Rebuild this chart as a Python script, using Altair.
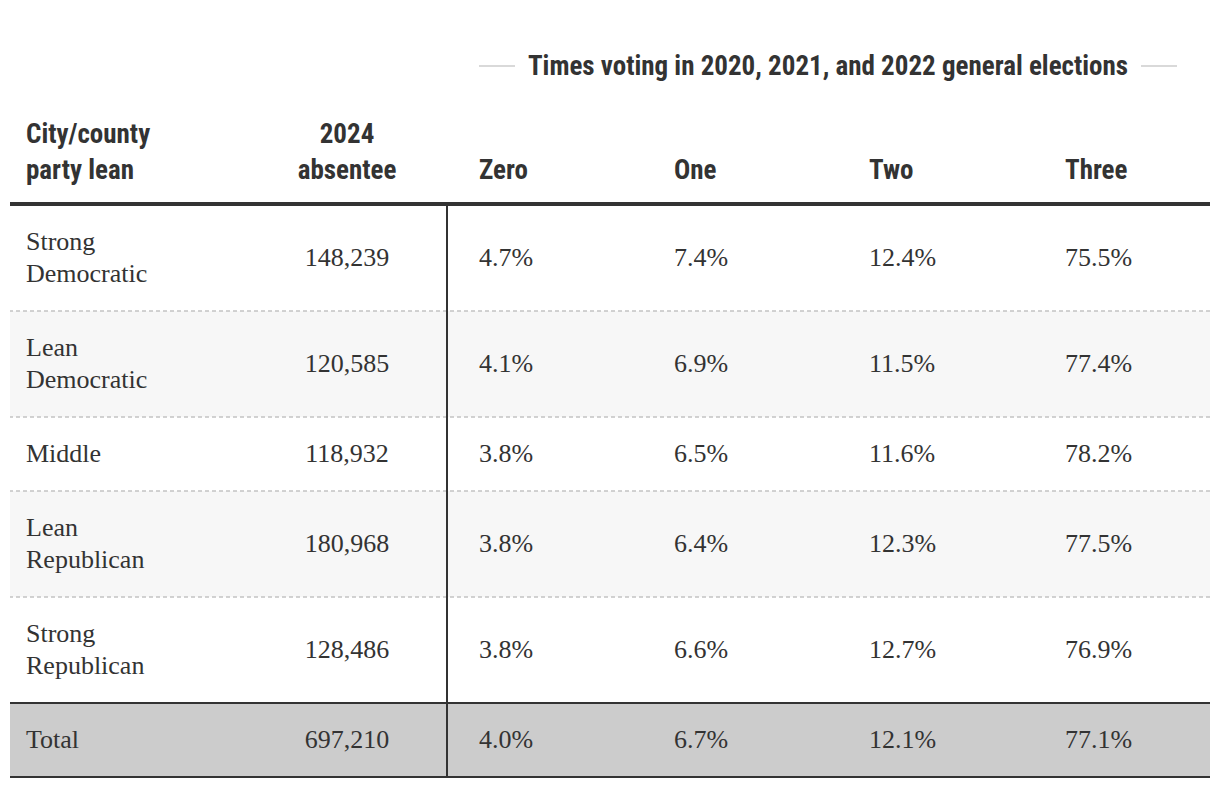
import altair as alt
import pandas as pd

# ---------------- data ----------------
leans = [["Strong", "Democratic"], ["Lean", "Democratic"], ["Middle"],
         ["Lean", "Republican"], ["Strong", "Republican"], ["Total"]]
absentee = [148239, 120585, 118932, 180968, 128486, 697210]
zero = [4.7, 4.1, 3.8, 3.8, 3.8, 4.0]
one = [7.4, 6.9, 6.5, 6.4, 6.6, 6.7]
two = [12.4, 11.5, 11.6, 12.3, 12.7, 12.1]
three = [75.5, 77.4, 78.2, 77.5, 76.9, 77.1]
pct_cols = ["Zero", "One", "Two", "Three"]
header_lean = ["City/county", "party lean"]
header_abs = ["2024", "absentee"]
group_title = "Times voting in 2020, 2021, and 2022 general elections"

# ---------------- layout / style ----------------
W, H = 1200, 772
TABLE_TOP = 197
LINE_H = 32
ROW_PAD = 42
COL_X = {"lean": 16, "absentee": 337, "Zero": 469, "One": 664, "Two": 859, "Three": 1055}
DIVIDER_X = 437
HEADER_LAST_Y = 163
HEADER_LH = 36
TITLE_X = 818
TITLE_Y = 59
TITLE_HALF = 299
DECO_GAP = 14
DECO_LEN = 36
TEXT = "#333333"
SERIF = "Liberation Serif"
SANS = "Liberation Sans Narrow, Roboto Condensed, Roboto, sans-serif"
BODY_SIZE = 26
HEAD_SIZE = 27

# ---------------- tables ----------------
tops, bots = [], []
y = TABLE_TOP
for lines in leans:
    h = ROW_PAD + LINE_H * len(lines)
    tops.append(y)
    bots.append(y + h)
    y += h
fills = ["#ffffff", "#f7f7f7", "#ffffff", "#f7f7f7", "#ffffff", "#cccccc"]
rows = pd.DataFrame({
    "label": leans, "absentee": absentee,
    "top": tops, "bot": bots,
    "mid": [(a + b) / 2 for a, b in zip(tops, bots)],
    "fill": fills,
    "Zero": zero, "One": one, "Two": two, "Three": three,
})
rows["n"] = rows["label"].apply(len)
# multi-line text: first line sits at y, so shift up to centre the block
rows["label_y"] = rows["mid"] - (rows["n"] - 1) * LINE_H / 2
rows["x_lean"] = COL_X["lean"]
rows["x_abs"] = COL_X["absentee"]

pct = rows.melt(id_vars=["mid"], value_vars=pct_cols, var_name="col", value_name="v")
pct["x"] = pct["col"].map(COL_X)

headers = pd.DataFrame({
    "text": [header_lean, header_abs] + [[c] for c in pct_cols],
    "x": [COL_X["lean"], COL_X["absentee"]] + [COL_X[c] for c in pct_cols],
    "align": ["left", "center", "left", "left", "left", "left"],
})
headers["n"] = headers["text"].apply(len)
headers["y"] = HEADER_LAST_Y - (headers["n"] - 1) * HEADER_LH

dashed = pd.DataFrame({"y": tops[1:5]})
solid = pd.DataFrame({"y": [tops[5], bots[5]]})
deco = pd.DataFrame({
    "x": [TITLE_X - TITLE_HALF - DECO_GAP - DECO_LEN, TITLE_X + TITLE_HALF + DECO_GAP],
    "x2": [TITLE_X - TITLE_HALF - DECO_GAP, TITLE_X + TITLE_HALF + DECO_GAP + DECO_LEN],
    "y": [TITLE_Y - 1, TITLE_Y - 1],
})

xs = alt.Scale(domain=[0, W], nice=False, zero=False)
ys = alt.Scale(domain=[0, H], nice=False, zero=False, reverse=True)

def X(f):
    return alt.X(f, type="quantitative", scale=xs, axis=None)

def Y(f):
    return alt.Y(f, type="quantitative", scale=ys, axis=None)

bg = alt.Chart(rows).mark_rect().encode(
    y=Y("top"), y2="bot", color=alt.Color("fill:N", scale=None))

dash_rules = alt.Chart(dashed).mark_rule(
    color="#c4c4c4", strokeWidth=1.5, strokeDash=[4, 3]).encode(y=Y("y"))

solid_rules = alt.Chart(solid).mark_rule(color=TEXT, strokeWidth=2).encode(y=Y("y"))

head_rule = alt.Chart(pd.DataFrame({"y": [TABLE_TOP - 1]})).mark_rule(
    color=TEXT, strokeWidth=4).encode(y=Y("y"))

divider = alt.Chart(pd.DataFrame({"x": [DIVIDER_X], "y": [TABLE_TOP], "y2": [bots[-1]]})).mark_rule(
    color=TEXT, strokeWidth=2).encode(x=X("x"), y=Y("y"), y2="y2")

deco_rules = alt.Chart(deco).mark_rule(color="#cccccc", strokeWidth=1.5).encode(
    x=X("x"), x2="x2", y=Y("y"))

title_txt = alt.Chart(pd.DataFrame({"t": [group_title], "x": [TITLE_X], "y": [TITLE_Y]})).mark_text(
    font=SANS, fontSize=HEAD_SIZE, fontWeight="bold", color=TEXT, align="center", baseline="middle"
).encode(x=X("x"), y=Y("y"), text="t:N")

head_left = alt.Chart(headers).transform_filter("datum.align == 'left'").mark_text(
    font=SANS, fontSize=HEAD_SIZE, fontWeight="bold", color=TEXT, align="left",
    baseline="middle", lineHeight=HEADER_LH
).encode(x=X("x"), y=Y("y"), text="text")

head_center = alt.Chart(headers).transform_filter("datum.align == 'center'").mark_text(
    font=SANS, fontSize=HEAD_SIZE, fontWeight="bold", color=TEXT, align="center",
    baseline="middle", lineHeight=HEADER_LH
).encode(x=X("x"), y=Y("y"), text="text")

lean_txt = alt.Chart(rows).mark_text(
    font=SERIF, fontSize=BODY_SIZE, color=TEXT, align="left", baseline="middle", lineHeight=LINE_H
).encode(x=X("x_lean"), y=Y("label_y"), text="label")

abs_txt = alt.Chart(rows).mark_text(
    font=SERIF, fontSize=BODY_SIZE, color=TEXT, align="center", baseline="middle"
).encode(x=X("x_abs"), y=Y("mid"), text=alt.Text("absentee:Q", format=",d"))

pct_txt = alt.Chart(pct).transform_calculate(
    lab="format(datum.v, '.1f') + '%'"
).mark_text(
    font=SERIF, fontSize=BODY_SIZE, color=TEXT, align="left", baseline="middle"
).encode(x=X("x"), y=Y("mid"), text="lab:N")

chart = alt.layer(
    bg, dash_rules, solid_rules, head_rule, divider, deco_rules,
    title_txt, head_left, head_center, lean_txt, abs_txt, pct_txt
).properties(
    width=W, height=H,
    autosize=alt.AutoSizeParams(type="none"),
    padding={"left": 2, "right": 0, "top": 0, "bottom": 0},
).configure_view(stroke=None)

chart.save("out.html", embed_options={"renderer": "svg", "actions": False})
